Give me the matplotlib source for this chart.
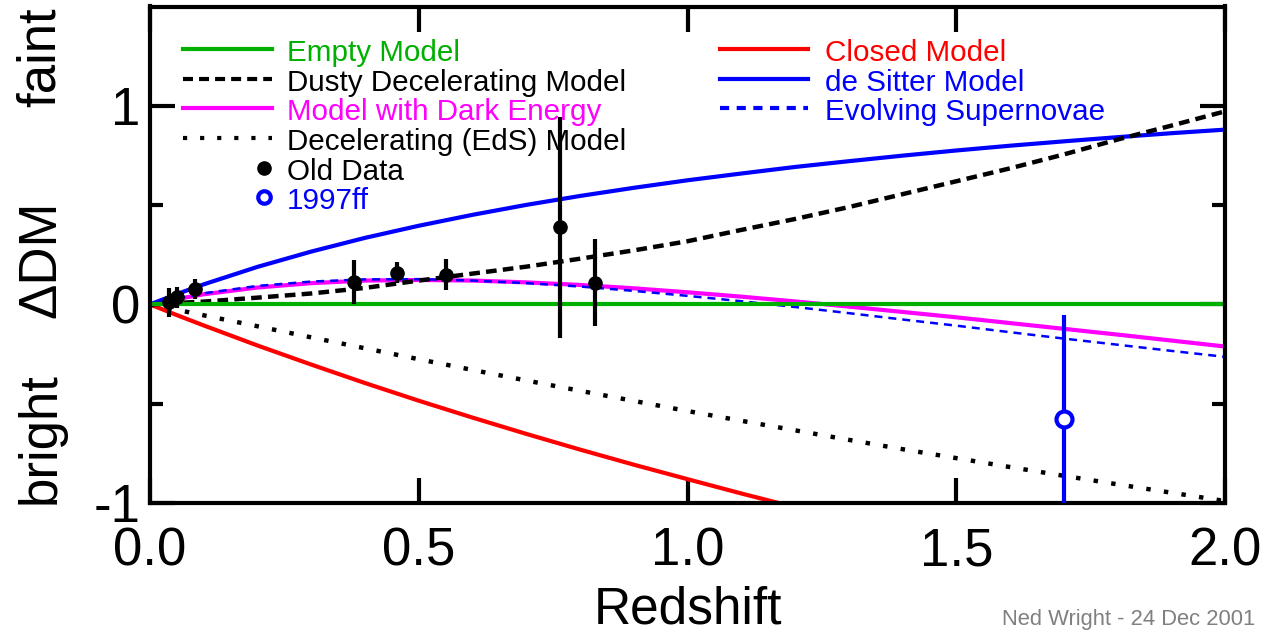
import matplotlib
matplotlib.use("Agg")
import matplotlib.pyplot as plt
from matplotlib.ticker import FixedLocator

plt.rcParams['font.family'] = ['Liberation Sans', 'DejaVu Sans']

# --- datos ---
z = [0.0, 0.05, 0.1, 0.2, 0.3, 0.4, 0.5, 0.6, 0.7, 0.8, 0.9, 1.0,
     1.1, 1.2, 1.3, 1.4, 1.5, 1.6, 1.7, 1.8, 1.9, 2.0]

vacio = [0.0] * len(z)
polvo = [0.0, 0.007, 0.014, 0.034, 0.055, 0.083, 0.12, 0.155, 0.19, 0.23, 0.272, 0.318,
         0.375, 0.43, 0.49, 0.555, 0.62, 0.685, 0.755, 0.83, 0.90, 0.972]
energia_oscura = [0.0, 0.027, 0.051, 0.085, 0.107, 0.120, 0.123, 0.120, 0.111, 0.098, 0.081, 0.061,
                  0.039, 0.015, -0.011, -0.038, -0.065, -0.094, -0.123, -0.152, -0.182, -0.212]
eds = [0.0, -0.027, -0.055, -0.110, -0.166, -0.221, -0.276, -0.330, -0.383, -0.435, -0.486, -0.537,
       -0.586, -0.634, -0.682, -0.729, -0.774, -0.819, -0.863, -0.906, -0.948, -0.990]
de_sitter = [0.0, 0.052, 0.101, 0.189, 0.266, 0.335, 0.396, 0.451, 0.501, 0.546, 0.587, 0.625,
             0.659, 0.692, 0.721, 0.749, 0.775, 0.799, 0.821, 0.842, 0.862, 0.880]
evolucion = [0.0, 0.029, 0.056, 0.093, 0.115, 0.126, 0.127, 0.120, 0.107, 0.090, 0.068, 0.043,
             0.016, -0.013, -0.044, -0.076, -0.107, -0.140, -0.172, -0.203, -0.234, -0.264]
z_cerrado = z[:15]
cerrado = [0.0, -0.054, -0.106, -0.207, -0.303, -0.396, -0.485, -0.570, -0.652, -0.731, -0.807,
           -0.880, -0.952, -1.021, -1.087]

z_viejos = [0.035, 0.05, 0.084, 0.38, 0.46, 0.55, 0.763, 0.828]
dm_viejos = [0.01, 0.035, 0.078, 0.112, 0.16, 0.149, 0.389, 0.11]
err_viejos = [0.075, 0.055, 0.052, 0.11, 0.053, 0.078, 0.557, 0.22]

z_ff = [1.70]
dm_ff = [-0.575]
err_ff = [0.52]

VERDE = '#00b000'

fig = plt.figure(figsize=(12.72, 6.34), dpi=100)
ax = fig.add_axes([150/1272, 131/634, 1075/1272, 496.5/634])

# --- curvas ---
ax.plot(z_cerrado, cerrado, color='red', lw=3, solid_capstyle='butt')
ax.plot(z, eds, color='black', lw=3.2, dashes=(1, 3.0), dash_capstyle='butt')
ax.plot(z, energia_oscura, color='magenta', lw=3)
ax.plot(z, evolucion, color='blue', lw=1.8, dashes=(3.2, 2.4))
ax.plot(z, de_sitter, color='blue', lw=3)
ax.plot(z, polvo, color='black', lw=3.2, dashes=(2.4, 1.4))
ax.plot([z[0], z[-1]], [vacio[0], vacio[-1]], color=VERDE, lw=3)

# --- datos ---
ax.errorbar(z_viejos, dm_viejos, yerr=err_viejos, fmt='o', color='black',
            ms=9.5, elinewidth=3, capsize=0, zorder=4)
ax.errorbar(z_ff, dm_ff, yerr=err_ff, fmt='o', mfc='white', mec='blue', ecolor='blue',
            ms=11.5, mew=3, elinewidth=3, capsize=0, zorder=4)

ax.set_xlim(0, 2)
ax.set_ylim(-1, 1.5)
ax.set_xticks([0, 0.5, 1.0, 1.5, 2.0])
ax.set_xticklabels(['0.0', '0.5', '1.0', '1.5', '2.0'])
ax.set_yticks([-1, 0, 1])
ax.set_yticklabels(['-1', '0', '1'])
ax.yaxis.set_minor_locator(FixedLocator([-0.5, 0.5]))
ax.tick_params(which='both', direction='in', top=True, right=True, width=3, color='black')
ax.tick_params(which='major', length=18, labelsize=38)
ax.tick_params(which='minor', length=9.5)
ax.tick_params(axis='x', pad=17)
ax.tick_params(axis='y', pad=7)
for s in ax.spines.values():
    s.set_linewidth(3)

# --- leyenda a mano (posiciones en pixeles de la figura) ---
def px_x(p):
    return (p - 150) / 1075

def px_y(p):
    return (503 - p) / 496.5

filas = [49, 79, 108, 138, 168, 197]
izq = [("Empty Model", VERDE, dict(color=VERDE, lw=3)),
       ("Dusty Decelerating Model", 'black', dict(color='black', lw=3, dashes=(2.4, 1.45))),
       ("Model with Dark Energy", 'magenta', dict(color='magenta', lw=3)),
       ("Decelerating (EdS) Model", 'black', dict(color='black', lw=3, dashes=(1, 3.1), dash_capstyle='butt'))]
der = [("Closed Model", 'red', dict(color='red', lw=3)),
       ("de Sitter Model", 'blue', dict(color='blue', lw=3)),
       ("Evolving Supernovae", 'blue', dict(color='blue', lw=3, dashes=(2.2, 1.8)))]

for i, (txt, col, estilo) in enumerate(izq):
    y = px_y(filas[i])
    ax.plot([px_x(183), px_x(272)], [y, y], transform=ax.transAxes, clip_on=False, **estilo)
    ax.text(px_x(287), px_y(filas[i] + 12), txt, color=col, fontsize=21.3,
            transform=ax.transAxes, va='baseline', ha='left')
for i, (txt, col, estilo) in enumerate(der):
    y = px_y(filas[i])
    ax.plot([px_x(720), px_x(808)], [y, y], transform=ax.transAxes, clip_on=False, **estilo)
    ax.text(px_x(825), px_y(filas[i] + 12), txt, color=col, fontsize=21.3,
            transform=ax.transAxes, va='baseline', ha='left')

ax.plot([px_x(264)], [px_y(filas[4])], 'o', color='black', ms=9.5, transform=ax.transAxes)
ax.text(px_x(287), px_y(filas[4] + 12), "Old Data", color='black', fontsize=21.3,
        transform=ax.transAxes, va='baseline')
ax.plot([px_x(264)], [px_y(filas[5])], 'o', mfc='white', mec='blue', mew=3, ms=9,
        transform=ax.transAxes)
ax.text(px_x(287), px_y(filas[5] + 12), "1997ff", color='blue', fontsize=21.3,
        transform=ax.transAxes, va='baseline')

# --- etiquetas de ejes ---
fig.text(41/1272, 1 - 57/634, "faint", rotation=90, ha='center', va='center', fontsize=38)
fig.text(41/1272, 1 - 259/634, "ΔDM", rotation=90, ha='center', va='center', fontsize=38)
fig.text(41/1272, 1 - 438/634, "bright", rotation=90, ha='center', va='center', fontsize=38)
fig.text(687.5/1272, 1 - 623/634, "Redshift", ha='center', va='baseline', fontsize=37)
fig.text(1255/1272, 1 - 625/634, "Ned Wright - 24 Dec 2001", ha='right', va='baseline',
         fontsize=15.8, color='#808080')

fig.savefig("out.png", dpi=100)
